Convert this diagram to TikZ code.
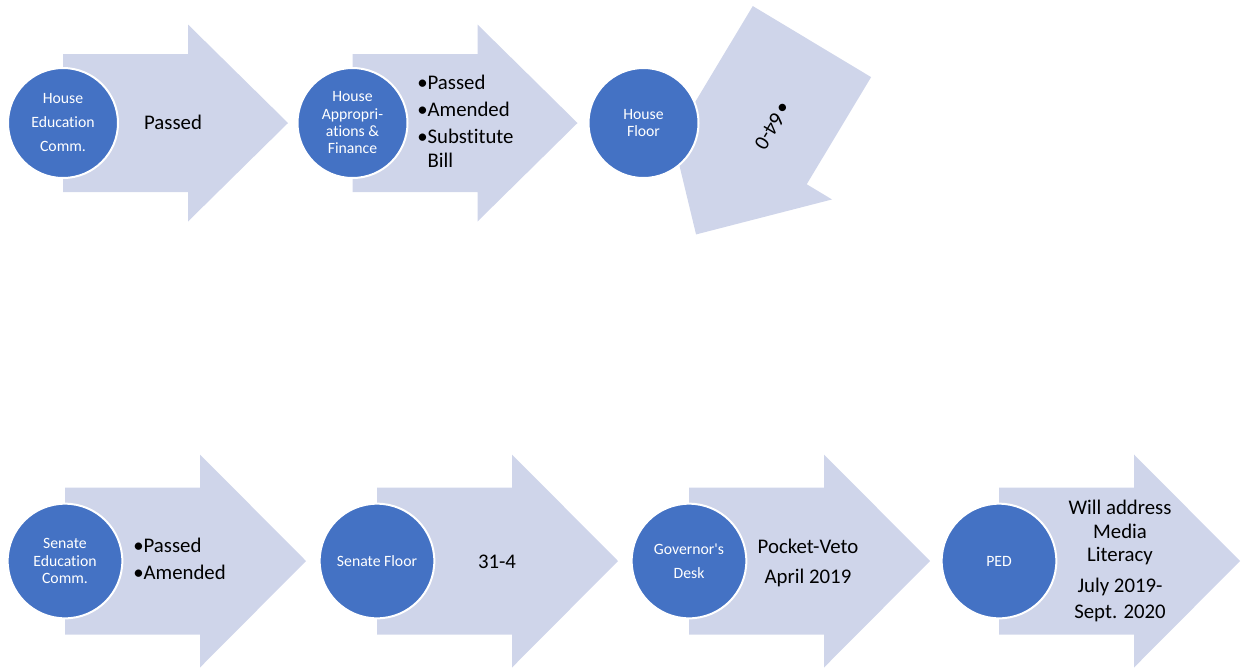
\documentclass[tikz,border=0pt]{standalone}
\usepackage{fontspec}
\setmainfont{Carlito}[Ligatures={NoCommon}]
\definecolor{stageblue}{HTML}{4472C4}
\definecolor{bandblue}{HTML}{CFD5EA}

\begin{document}
\begin{tikzpicture}[x=0.75pt,y=-0.75pt,
  band/.style={fill=bandblue},
  stage/.style={circle,fill=stageblue,draw=white,line width=1.5pt,minimum size=82.5pt,inner sep=0pt,text=white,align=center,font=\fontsize{11.8}{13}\selectfont},
  bigstage/.style={stage,minimum size=86pt},
  note/.style={inner sep=0pt,align=center,font=\fontsize{15.6}{17.5}\selectfont}]
\useasboundingbox (0,0) rectangle (1241,669);
\fill[band] (63,123) ++(0,-69) -- ++(125,0) -- ++(0,-29.5) -- ++(100,98.5) -- ++(-100,98.5) -- ++(0,-29.5) -- ++(-125,0) -- cycle;
\fill[band] (352.5,123) ++(0,-69) -- ++(125,0) -- ++(0,-29.5) -- ++(100,98.5) -- ++(-100,98.5) -- ++(0,-29.5) -- ++(-125,0) -- cycle;
\begin{scope}[shift={(754,138)},rotate=-121]
\fill[band] (-112.5,-69) -- (12.5,-69) -- (12.5,-98.5) -- (112.5,0) -- (12.5,98.5) -- (12.5,69) -- (-112.5,69) -- cycle;
\node[note,rotate=-121] (hfl-t) at (-20,-10) {•\hspace{2pt}64-0};
\end{scope}
\fill[band] (65,561) ++(0,-73.5) -- ++(135,0) -- ++(0,-33) -- ++(106,106.5) -- ++(-106,106.5) -- ++(0,-33) -- ++(-135,0) -- cycle;
\fill[band] (377,561) ++(0,-73.5) -- ++(135,0) -- ++(0,-33) -- ++(106,106.5) -- ++(-106,106.5) -- ++(0,-33) -- ++(-135,0) -- cycle;
\fill[band] (689,561) ++(0,-73.5) -- ++(135,0) -- ++(0,-33) -- ++(106,106.5) -- ++(-106,106.5) -- ++(0,-33) -- ++(-135,0) -- cycle;
\fill[band] (999,561) ++(0,-73.5) -- ++(135,0) -- ++(0,-33) -- ++(106,106.5) -- ++(-106,106.5) -- ++(0,-33) -- ++(-135,0) -- cycle;
\node[stage] (hec) at (63,123) {House\\[5pt]Education\\[5pt]Comm.};
\node[stage] (haf) at (352.5,123) {House\\Appropri-\\ations \&\\Finance};
\node[stage] (hfl) at (643.5,123) {House\\Floor};
\node[bigstage] (sec) at (65,561) {Senate\\Education\\Comm.};
\node[bigstage] (sfl) at (377,561) {Senate Floor};
\node[bigstage] (gov) at (689,561) {Governor\textquotesingle s\\[5pt]Desk};
\node[bigstage] (ped) at (999,561) {PED};
\node[note] (hec-t) at (173,122) {Passed};
\node[note,anchor=west,align=left] (haf-t) at (417,121) {•Passed\\[3pt]•Amended\\[3pt]•Substitute\\\hphantom{•}Bill};
\node[note,anchor=west,align=left] (sec-t) at (133,559) {•Passed\\[2.8pt]•Amended};
\node[note] (sfl-t) at (497,561.5) {31-4};
\node[note] (gov-t) at (808,562.5) {Pocket-Veto\\[5pt]April 2019};
\node[note] (ped-t) at (1120,561) {Will address\\Media\\Literacy\\[6pt]July 2019-\\[1.5pt]Sept. 2020};
\end{tikzpicture}
\end{document}
